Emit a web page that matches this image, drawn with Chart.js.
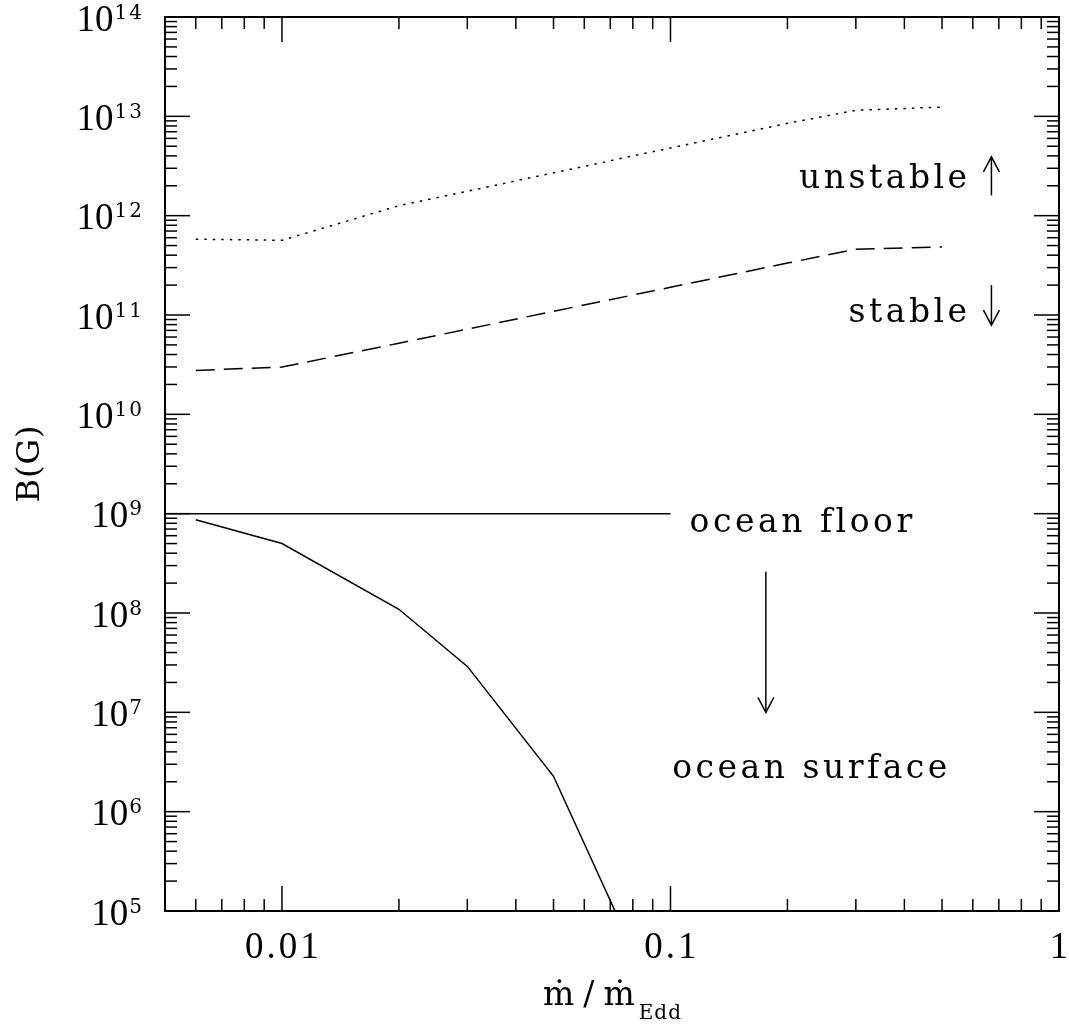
<!DOCTYPE html>
<html>
<head>
<meta charset="utf-8">
<script src="https://cdn.jsdelivr.net/npm/chart.js@4.4.1/dist/chart.umd.min.js"></script>
<style>
  html, body { margin: 0; padding: 0; background: #fff; }
  #wrap { width: 1069px; height: 1025px; }
</style>
</head>
<body>
<div id="wrap"><canvas id="bfieldChart" width="1069" height="1025"></canvas></div>
<script>
// accretion rate (mdot / mdot_Edd) and field strength B in gauss
const mdotCurves = [0.006, 0.01, 0.02, 0.03, 0.05, 0.1, 0.2, 0.3, 0.5];
const bUnstable = [5.8e11, 5.65e11, 1.26e12, 1.76e12, 2.7e12, 4.8e12, 8.5e12, 1.15e13, 1.24e13];
const bStable = [2.77e10, 2.99e10, 5.2e10, 7.2e10, 1.09e11, 1.9e11, 3.33e11, 4.6e11, 4.83e11];

const mdotFloor = [0.005, 0.1];
const bFloor = [1e9, 1e9];

const mdotSurface = [0.006, 0.01, 0.02, 0.03, 0.05, 0.1];
const bSurface = [8.7e8, 5.0e8, 1.09e8, 2.9e7, 2.27e6, 6e3];

const xTicks = [0.01, 0.1, 1];
const xTickLabels = ['0.01', '0.1', '1'];
const yExponents = [5, 6, 7, 8, 9, 10, 11, 12, 13, 14];

// text notes and arrows, placed in data coordinates
const notes = [
  { text: 'unstable', x: 0.58, y: 1.9e12, align: 'right' },
  { text: 'stable', x: 0.58, y: 8.5e10, align: 'right' },
  { text: 'ocean floor', x: 0.112, y: 6.6e8, align: 'left' },
  { text: 'ocean surface', x: 0.101, y: 2.2e6, align: 'left' },
];
const arrows = [
  { x: 0.67, from: 1.6e12, to: 3.9e12 },
  { x: 0.67, from: 2.0e11, to: 7.9e10 },
  { x: 0.176, from: 2.6e8, to: 1e7 },
];

const WORD_FONT = '"DejaVu Serif", serif';
const NUM_FONT = '"Liberation Serif", "DejaVu Serif", serif';

const toPoints = (xs, ys) => xs.map((x, i) => ({ x: x, y: ys[i] }));

// draws text letter by letter so the wide spacing of the original can be kept
const drawSpaced = (ctx, text, x, y, spacing, align) => {
  const chars = [...text];
  const widths = chars.map((c) => ctx.measureText(c).width);
  const total = widths.reduce((s, w) => s + w, 0) + spacing * (chars.length - 1);
  let cx = x;
  if (align === 'right') cx = x - total;
  if (align === 'center') cx = x - total / 2;
  ctx.textAlign = 'left';
  chars.forEach((c, i) => {
    ctx.fillText(c, cx, y);
    cx += widths[i] + spacing;
  });
  return total;
};

const spacedWidth = (ctx, text, spacing) => {
  const chars = [...text];
  return chars.reduce((s, c) => s + ctx.measureText(c).width, 0) + spacing * (chars.length - 1);
};

const line = (ctx, x0, y0, x1, y1) => {
  ctx.beginPath();
  ctx.moveTo(x0, y0);
  ctx.lineTo(x1, y1);
  ctx.stroke();
};

const framePlugin = {
  id: 'framePlugin',
  beforeDraw(chart) {
    const ctx = chart.ctx;
    ctx.save();
    ctx.fillStyle = '#fff';
    ctx.fillRect(0, 0, chart.width, chart.height);
    ctx.restore();
  },
  afterDraw(chart) {
    const { ctx, chartArea: a, scales } = chart;
    const xs = scales.x;
    const ys = scales.y;
    ctx.save();
    ctx.strokeStyle = '#000';
    ctx.fillStyle = '#000';
    ctx.lineCap = 'butt';

    // log ticks on all four sides, pointing inwards
    ctx.lineWidth = 1.5;
    for (let e = -3; e <= 0; e++) {
      for (let m = 1; m <= 9; m++) {
        const v = m * Math.pow(10, e);
        if (v < xs.min * 0.999 || v > xs.max * 1.001) continue;
        const px = xs.getPixelForValue(v);
        const len = m === 1 ? 25 : 12;
        line(ctx, px, a.bottom, px, a.bottom - len);
        line(ctx, px, a.top, px, a.top + len);
      }
    }
    for (let e = 5; e <= 14; e++) {
      for (let m = 1; m <= 9; m++) {
        const v = m * Math.pow(10, e);
        if (v < ys.min * 0.999 || v > ys.max * 1.001) continue;
        const py = ys.getPixelForValue(v);
        const len = m === 1 ? 25 : 12;
        line(ctx, a.left, py, a.left + len, py);
        line(ctx, a.right, py, a.right - len, py);
      }
    }

    ctx.lineWidth = 2;
    ctx.strokeRect(a.left, a.top, a.right - a.left, a.bottom - a.top);

    // y tick labels 10^n
    ctx.textBaseline = 'alphabetic';
    yExponents.forEach((n) => {
      const py = ys.getPixelForValue(Math.pow(10, n));
      const base = py + 13.5;
      ctx.font = '20px ' + WORD_FONT;
      const supW = spacedWidth(ctx, String(n), 2);
      const right = a.left - 23;
      drawSpaced(ctx, String(n), right - supW, base - 12, 2, 'left');
      ctx.font = '37px ' + NUM_FONT;
      drawSpaced(ctx, '10', right - supW - 1, base, 0, 'right');
    });

    // x tick labels
    ctx.font = '37px ' + NUM_FONT;
    xTicks.forEach((v, i) => {
      const px = xs.getPixelForValue(v);
      drawSpaced(ctx, xTickLabels[i], px, a.bottom + 47, 3, 'center');
    });

    // x axis title: mdot / mdot_Edd
    const cx = (a.left + a.right) / 2;
    ctx.font = '33px ' + WORD_FONT;
    const mainW = spacedWidth(ctx, 'ṁ/ṁ', 9);
    ctx.font = '20px ' + WORD_FONT;
    const subW = spacedWidth(ctx, 'Edd', 1);
    const startX = cx - (mainW + 4 + subW) / 2;
    ctx.font = '33px ' + WORD_FONT;
    drawSpaced(ctx, 'ṁ/ṁ', startX, a.bottom + 94, 9, 'left');
    ctx.font = '20px ' + WORD_FONT;
    drawSpaced(ctx, 'Edd', startX + mainW + 4, a.bottom + 108, 1, 'left');

    // y axis title
    ctx.save();
    ctx.translate(31, (a.top + a.bottom) / 2);
    ctx.rotate(-Math.PI / 2);
    ctx.font = '32px ' + WORD_FONT;
    ctx.textBaseline = 'middle';
    drawSpaced(ctx, 'B(G)', 0, 0, 1, 'center');
    ctx.restore();

    // notes
    ctx.font = '33px ' + WORD_FONT;
    ctx.textBaseline = 'alphabetic';
    notes.forEach((n) => {
      drawSpaced(ctx, n.text, xs.getPixelForValue(n.x), ys.getPixelForValue(n.y), 3.5, n.align);
    });

    // arrows with open heads
    ctx.lineWidth = 1.5;
    arrows.forEach((ar) => {
      const px = xs.getPixelForValue(ar.x);
      const y0 = ys.getPixelForValue(ar.from);
      const y1 = ys.getPixelForValue(ar.to);
      const dir = y1 > y0 ? -1 : 1;
      line(ctx, px, y0, px, y1);
      ctx.beginPath();
      ctx.moveTo(px - 8, y1 + dir * 15);
      ctx.lineTo(px, y1);
      ctx.lineTo(px + 8, y1 + dir * 15);
      ctx.stroke();
    });

    ctx.restore();
  },
};

const lineStyle = {
  showLine: true,
  pointRadius: 0,
  borderColor: '#000',
  backgroundColor: '#000',
  borderWidth: 1.5,
  fill: false,
  tension: 0,
};

const config = {
  type: 'scatter',
  data: {
    datasets: [
      { ...lineStyle, label: 'unstable', data: toPoints(mdotCurves, bUnstable), borderDash: [2.5, 6] },
      { ...lineStyle, label: 'stable', data: toPoints(mdotCurves, bStable), borderDash: [19, 9] },
      { ...lineStyle, label: 'ocean floor', data: toPoints(mdotFloor, bFloor) },
      { ...lineStyle, label: 'ocean surface', data: toPoints(mdotSurface, bSurface) },
    ],
  },
  options: {
    responsive: false,
    animation: false,
    devicePixelRatio: 1,
    layout: { padding: { left: 165, right: 10, top: 17, bottom: 114 } },
    plugins: {
      legend: { display: false },
      tooltip: { enabled: false },
    },
    scales: {
      x: { type: 'logarithmic', min: 0.005, max: 1, display: false },
      y: { type: 'logarithmic', min: 1e5, max: 1e14, display: false },
    },
  },
  plugins: [framePlugin],
};

new Chart(document.getElementById('bfieldChart'), config);
</script>
</body>
</html>
